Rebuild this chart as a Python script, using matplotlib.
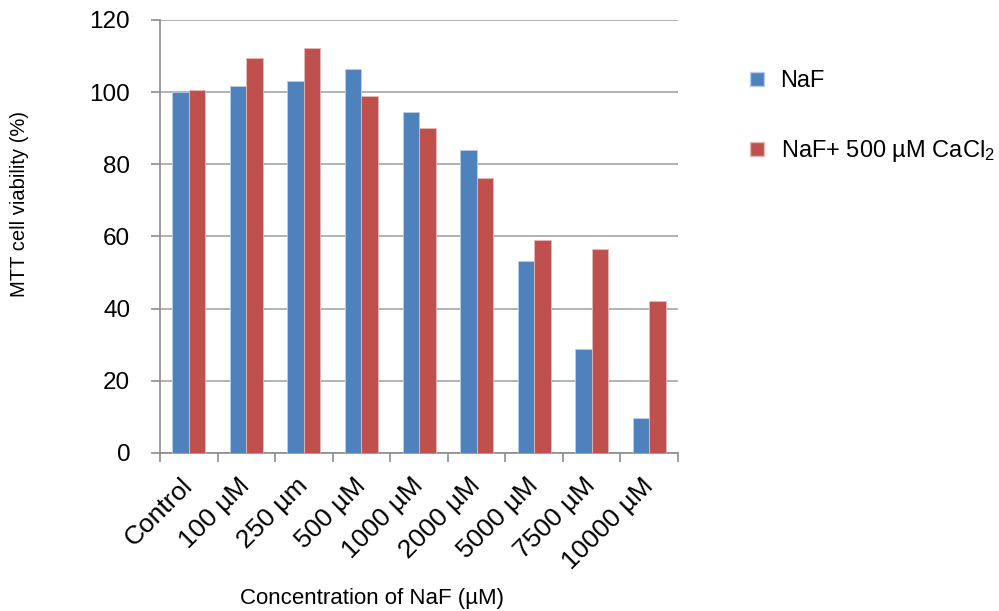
import numpy as np
import matplotlib
matplotlib.use('Agg')
import matplotlib.pyplot as plt
from matplotlib.patches import Patch
from matplotlib.ticker import FixedLocator

plt.rcParams['font.family'] = ['Liberation Sans', 'DejaVu Sans']
plt.rcParams['mathtext.fontset'] = 'custom'
plt.rcParams['mathtext.rm'] = 'Liberation Sans'
plt.rcParams['mathtext.it'] = 'Liberation Sans:italic'

# data
categories = ['Control', '100 µM', '250 µm', '500 µM', '1000 µM', '2000 µM',
              '5000 µM', '7500 µM', '10000 µM']
naf = [100.0, 101.6, 103.0, 106.3, 94.6, 83.9, 53.2, 28.7, 9.8]
naf_cacl2 = [100.7, 109.6, 112.2, 99.0, 90.2, 76.1, 59.0, 56.6, 42.1]
series_names = ['NaF', 'NaF+ 500 µM CaCl$\\mathrm{_2}$']
yticks = [0, 20, 40, 60, 80, 100, 120]

blue = '#4F81BD'
red = '#C0504D'
axis_grey = '#8C8C8C'

fig = plt.figure(figsize=(9.99, 6.11), dpi=100)
ax = fig.add_axes([0.1602, 0.2586, 0.5185, 0.7087])

x = np.arange(len(categories))
w = 0.287
ax.bar(x - w / 2, naf, width=w, color=blue, edgecolor='#B9CDE5', linewidth=0.6, zorder=3)
ax.bar(x + w / 2, naf_cacl2, width=w, color=red, edgecolor='#E6B9B8', linewidth=0.6, zorder=3)

ax.set_xlim(-0.5, len(categories) - 0.5)
ax.set_ylim(0, 120)
ax.set_yticks(yticks)
ax.yaxis.grid(True, color='#A6A6A6', linewidth=1.2, zorder=0)

for side in ['top', 'right']:
    ax.spines[side].set_visible(False)
for side in ['left', 'bottom']:
    ax.spines[side].set_color(axis_grey)
    ax.spines[side].set_linewidth(1.2)

ax.set_xticks(x)
ax.set_xticklabels(categories, rotation=45, ha='right', va='center',
                   rotation_mode='anchor')
ax.xaxis.set_minor_locator(FixedLocator(np.arange(-0.5, len(categories), 1.0)))
ax.tick_params(axis='x', which='major', length=0, pad=21, labelsize=19)
ax.tick_params(axis='x', which='minor', length=6.5, width=1.2, color=axis_grey, direction='out')
ax.tick_params(axis='y', which='major', length=6.5, width=1.2, color=axis_grey,
               labelsize=17.5, pad=15)

ax.set_xlabel('Concentration of NaF (µM)', fontsize=16, va='center')
ax.xaxis.set_label_coords(0.41, -0.336)
ax.set_ylabel('MTT cell viability (%)', fontsize=14.5, va='center')
ax.yaxis.set_label_coords(-0.271, 0.575)

handles = [Patch(facecolor=blue, edgecolor='#B9CDE5'),
           Patch(facecolor=red, edgecolor='#E6B9B8')]
fig.legend(handles, series_names, loc='upper left', bbox_to_anchor=(0.7508, 0.885),
           frameon=False, fontsize=17, handlelength=0.57, handleheight=0.57,
           handletextpad=0.72, labelspacing=1.95, borderpad=0, borderaxespad=0)

fig.savefig('out.png', dpi=100)
